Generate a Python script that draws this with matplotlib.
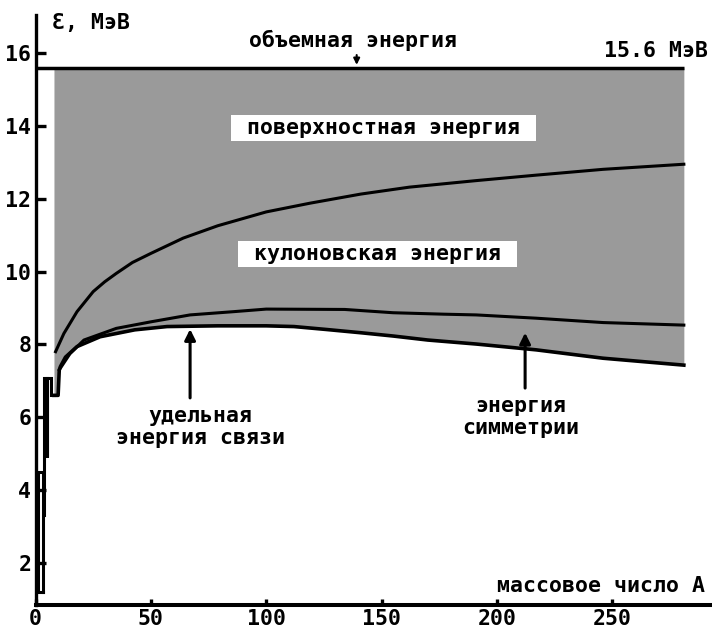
import matplotlib
matplotlib.use("Agg")
import matplotlib.pyplot as plt

plt.rcParams['font.family'] = ['DejaVu Sans Mono', 'DejaVu Sans']
plt.rcParams['font.weight'] = 'bold'

# binding energy per nucleon (lower curve), MeV
bind_A = [8.0, 9.8, 10.3, 10.8, 13, 18, 28, 43, 57, 79, 100, 112, 126, 141, 155, 170, 191, 217, 246, 281]
bind_E = [6.6, 6.6, 7.3, 7.39, 7.65, 7.94, 8.21, 8.40, 8.49, 8.51, 8.51, 8.49, 8.41, 8.32, 8.23, 8.12, 8.01, 7.85, 7.62, 7.43]

# binding + symmetry term
coul_A = [10.3, 15, 21, 35, 50, 67, 86, 100, 134, 155, 177, 191, 217, 246, 281]
coul_E = [7.3, 7.75, 8.12, 8.44, 8.62, 8.81, 8.90, 8.97, 8.96, 8.87, 8.83, 8.81, 8.72, 8.60, 8.53]

# volume minus surface term
surf_A = [8.7, 12.3, 18, 25, 30, 35, 42, 50, 64, 79, 100, 119, 141, 162, 191, 217, 246, 281]
surf_E = [7.80, 8.30, 8.90, 9.45, 9.72, 9.95, 10.25, 10.50, 10.92, 11.26, 11.64, 11.88, 12.13, 12.32, 12.50, 12.65, 12.81, 12.95]

# light nuclei
light1_A = [3.3, 1.3, 1.3, 3.3, 3.3]
light1_E = [1.2, 1.2, 4.5, 4.5, 1.2]
light2_A = [3.6, 3.6, 5.1, 5.1, 5.1, 6.8, 6.8, 8.0]
light2_E = [3.3, 7.08, 7.08, 4.9, 7.08, 7.08, 6.6, 6.6]

vol_E = 15.6
x_ticks = [0, 50, 100, 150, 200, 250]
y_ticks = [2, 4, 6, 8, 10, 12, 14, 16]

fig = plt.figure(figsize=(7.12, 6.32), dpi=100)
ax = fig.add_axes([35.5 / 712, 27 / 632, 1 - 35.5 / 712, 590 / 632])
ax.set_xlim(0, 293.2)
ax.set_ylim(0.84, 17.05)

gray = '#9a9a9a'
ax.fill_between(bind_A, bind_E, vol_E, color=gray, lw=0, zorder=1)
ax.hlines(vol_E, 0, bind_A[-1], color='k', lw=2.5, zorder=3)

ax.plot(bind_A, bind_E, color='k', lw=2.6, zorder=3)
ax.plot(coul_A, coul_E, color='k', lw=2.2, zorder=3)
ax.plot(surf_A, surf_E, color='k', lw=2.2, zorder=3)
ax.plot(light1_A, light1_E, color='k', lw=2.2, zorder=3, solid_joinstyle='miter')
ax.plot(light2_A, light2_E, color='k', lw=2.2, zorder=3, solid_joinstyle='miter')

for s in ['top', 'right']:
    ax.spines[s].set_visible(False)
ax.spines['left'].set_linewidth(2.4)
ax.spines['bottom'].set_linewidth(2.9)

ax.set_xticks(x_ticks)
ax.set_yticks(y_ticks)
ax.tick_params(axis='y', direction='in', length=7.5, width=2.4, pad=3, labelsize=15.5)
ax.tick_params(axis='x', direction='in', length=4.5, width=2.4, pad=3, labelsize=15.5)

txt = dict(fontsize=15.5, fontweight='bold', color='k')

ax.text(7.2, 16.83, 'Ɛ, МэВ', ha='left', va='center', **txt)
ax.text(290.2, 1.37, 'массовое число А', ha='right', va='center', **txt)

ax.text(137.8, 16.36, 'объемная энергия', ha='center', va='center', **txt)
ax.annotate('', xy=(139.2, vol_E + 0.08), xytext=(139.2, vol_E + 0.35),
            arrowprops=dict(arrowstyle='-|>', color='k', lw=1.5, mutation_scale=9,
                            shrinkA=0, shrinkB=0))
ax.annotate('15.6 МэВ', xy=(291.6, vol_E), xytext=(0, 7.4), textcoords='offset points',
            ha='right', va='baseline', **txt)

box = dict(boxstyle='square,pad=0.15', fc='white', ec='none')
ax.text(150.8, 13.94, ' поверхностная энергия ', ha='center', va='center', bbox=box, zorder=4, **txt)
ax.text(148.2, 10.49, ' кулоновская энергия ', ha='center', va='center', bbox=box, zorder=4, **txt)

ax.text(71.3, 5.73, 'удельная\nэнергия связи', ha='center', va='center',
        multialignment='center', linespacing=1.15, **txt)
ax.annotate('', xy=(67, 8.42), xytext=(67, 6.53),
            arrowprops=dict(arrowstyle='-|>', color='k', lw=2.2, mutation_scale=16,
                            shrinkA=0, shrinkB=0), zorder=4)

ax.text(210.4, 6.0, 'энергия\nсимметрии', ha='center', va='center',
        multialignment='center', linespacing=1.15, **txt)
ax.annotate('', xy=(212.2, 8.32), xytext=(212.2, 6.80),
            arrowprops=dict(arrowstyle='-|>', color='k', lw=2.2, mutation_scale=16,
                            shrinkA=0, shrinkB=0), zorder=4)

fig.savefig('out.png', dpi=100)
